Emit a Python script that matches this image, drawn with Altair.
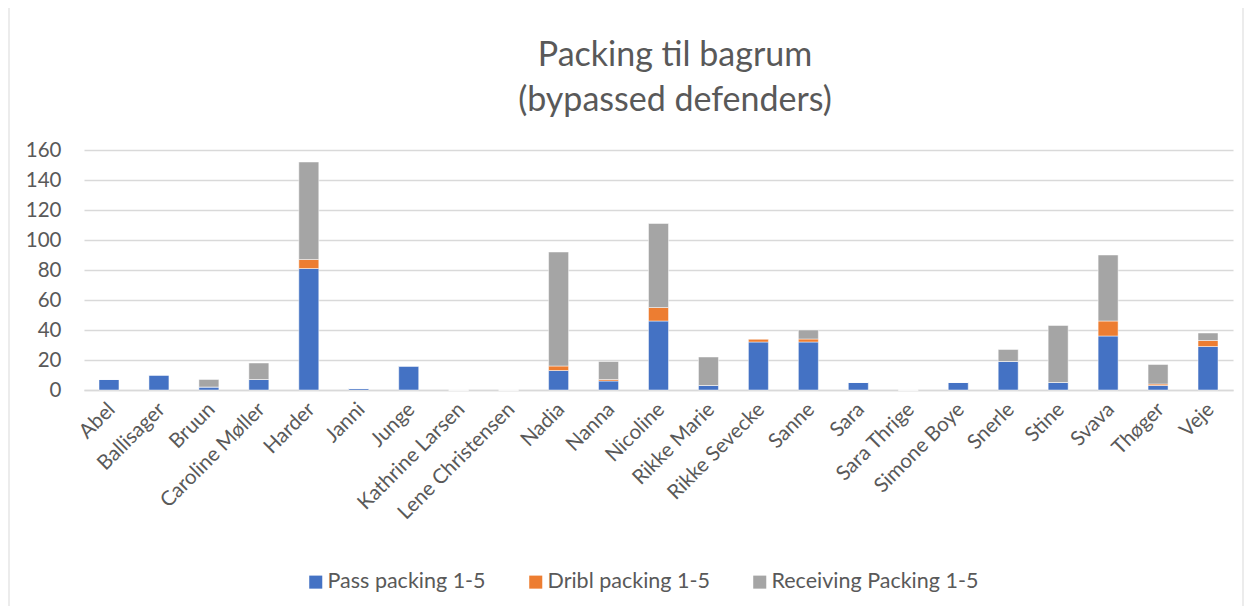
import altair as alt
import pandas as pd

names = ["Abel", "Ballisager", "Bruun", "Caroline Møller", "Harder", "Janni", "Junge",
         "Kathrine Larsen", "Lene Christensen", "Nadia", "Nanna", "Nicoline", "Rikke Marie",
         "Rikke Sevecke", "Sanne", "Sara", "Sara Thrige", "Simone Boye", "Snerle", "Stine",
         "Svava", "Thøger", "Veje"]
pass_packing = [7, 10, 2, 7, 81, 1, 16, 0, 0, 13, 6, 46, 3, 32, 32, 5, 0, 5, 19, 5, 36, 3, 29]
dribl_packing = [0, 0, 0, 0, 6, 0, 0, 0, 0, 3, 1, 9, 0, 2, 2, 0, 0, 0, 0, 0, 10, 1, 4]
receiving_packing = [0, 0, 5, 11, 65, 0, 0, 0, 0, 76, 12, 56, 19, 0, 6, 0, 0, 0, 8, 38, 44, 13, 5]

series = ["Pass packing 1-5", "Dribl packing 1-5", "Receiving Packing 1-5"]
colors = ["#4472C4", "#ED7D31", "#A5A5A5"]
y_ticks = [0, 20, 40, 60, 80, 100, 120, 140, 160]
title_lines = ["Packing til bagrum", "(bypassed defenders)"]

rows = []
for i, n in enumerate(names):
    for k, vals in enumerate([pass_packing, dribl_packing, receiving_packing]):
        rows.append({"name": n, "series": series[k], "value": vals[i], "order": k})
df = pd.DataFrame(rows)

FONT = "Lato"
TXT = "#595959"

bars = alt.Chart(df).mark_bar(stroke="#ffffff", strokeWidth=0.8, strokeOpacity=0.6).encode(
    x=alt.X("name:N", sort=names,
            scale=alt.Scale(paddingInner=0.6, paddingOuter=0.3),
            axis=alt.Axis(title=None, labelAngle=-45, labelAlign="right", labelBaseline="middle",
                          labelFontSize=20.5, labelColor=TXT, labelFont=FONT, labelPadding=16,
                          labelOffset=3, labelLimit=0,
                          ticks=False, domainColor="#d9d9d9", domainWidth=1.3, grid=False)),
    y=alt.Y("value:Q", stack="zero",
            scale=alt.Scale(domain=[0, 160], nice=False),
            axis=alt.Axis(title=None, values=y_ticks, labelFontSize=20.5, labelColor=TXT,
                          labelFont=FONT, labelPadding=23, ticks=False, domain=False,
                          gridColor="#d9d9d9", gridWidth=1.3)),
    color=alt.Color("series:N", sort=series,
                    scale=alt.Scale(domain=series, range=colors),
                    legend=alt.Legend(title=None, orient="none", direction="horizontal",
                                      legendX=221, legendY=421, symbolType="square",
                                      symbolSize=170, symbolStrokeWidth=0, labelFontSize=21.5,
                                      labelColor=TXT, labelFont=FONT, columnPadding=39,
                                      labelOffset=1, labelLimit=0)),
    order=alt.Order("order:Q"),
)

border = alt.Chart(pd.DataFrame({"a": [0]})).mark_rect(
    fill=None, stroke="#d9d9d9", strokeWidth=1).encode(
    x=alt.value(-75), x2=alt.value(1159), y=alt.value(-143), y2=alt.value(462))

title1 = alt.Chart(pd.DataFrame({"t": [title_lines[0]]})).mark_text(
    font=FONT, fontSize=34, color=TXT, align="center", baseline="alphabetic").encode(
    text="t:N", x=alt.value(591), y=alt.value(-84))
title2 = alt.Chart(pd.DataFrame({"t": [title_lines[1]]})).mark_text(
    font=FONT, fontSize=34, color=TXT, align="center", baseline="alphabetic").encode(
    text="t:N", x=alt.value(591), y=alt.value(-39))

chart = alt.layer(border, bars, title1, title2).properties(
    width=1149, height=240,
    autosize=alt.AutoSizeParams(type="none"),
    padding={"left": 76, "top": 142, "right": 11, "bottom": 216},
).configure_view(stroke=None)

chart.save("out.html", embed_options={"renderer": "svg", "actions": False})
